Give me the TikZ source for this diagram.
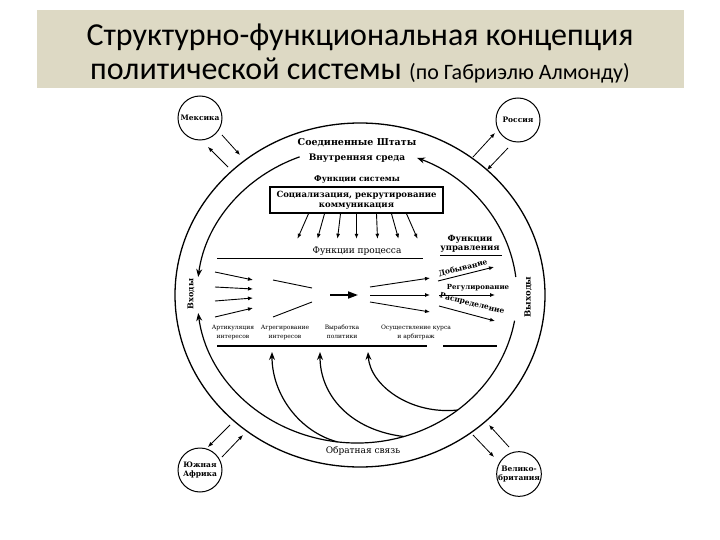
\documentclass[tikz,border=0pt]{standalone}
\usepackage{fontspec}
\setmainfont{DejaVu Serif}
\newfontfamily\titlefont{Carlito}
\usetikzlibrary{arrows.meta, calc}
\definecolor{titlebg}{RGB}{221,217,196}

\begin{document}
\begin{tikzpicture}[x=1pt, y=-1pt,
        every node/.style={align=center, inner sep=0pt},
        ring/.style={line width=1.2pt},
        flow/.style={ring, -{Stealth[length=8pt, width=6pt]}},
        feed/.style={line width=0.9pt, -{Latex[length=5pt, width=4pt]}},
        link/.style={line width=0.8pt, -{Latex[length=5pt, width=4pt]}},
        land/.style={draw, circle, line width=1pt, minimum size=44pt, font=\bfseries\fontsize{7.5}{8.5}\selectfont},
        tag/.style={anchor=north, font=\fontsize{6}{8.5}\selectfont},
        rule/.style={line width=1.6pt}]
    \useasboundingbox (0,0) rectangle (720,540);
    \fill[titlebg] (37,10) rectangle (684,88);
    \node[anchor=base, font=\titlefont\fontsize{32}{38}\selectfont] (titleA) at (360,46) {Структурно-функциональная концепция};
    \node[anchor=base, font=\titlefont\fontsize{32}{38}\selectfont] (titleB) at (360,80) {политической системы {\fontsize{22}{26}\selectfont (по Габриэлю Алмонду)}};

    \coordinate (ringC) at (357,295);
    \draw[line width=1.3pt] (360,295) ellipse [x radius=185, y radius=172];
    \draw[flow] ($(ringC)+(249:160 and 148)$) arc[start angle=249, end angle=187, x radius=160, y radius=148];
    \draw[flow] ($(ringC)+(10:160 and 148)$) arc[start angle=10, end angle=173, x radius=160, y radius=148];
    \draw[flow] ($(ringC)+(-7:160 and 148)$) arc[start angle=-7, end angle=-68, x radius=160, y radius=148];

    \node[font=\bfseries\fontsize{9.5}{11}\selectfont] (usa) at (357,143) {Соединенные Штаты};
    \node[font=\bfseries\fontsize{9}{11}\selectfont] (env) at (357,158) {Внутренняя среда};
    \node[font=\bfseries\fontsize{8}{10}\selectfont] (sysfunc) at (357,179) {Функции системы};
    \node[draw, line width=1.5pt, minimum width=173pt, minimum height=26pt, font=\bfseries\fontsize{8.5}{10}\selectfont] (soc) at (356.5,200) {Социализация, рекрутирование\\коммуникация};
    \foreach \s/\e in {-48/-11, -32/-7, -16/-3, 0/0, 20/1, 35/7, 50/11}
        \draw[feed] ($(soc.south)+(\s,0)$) -- ++(\e,25);

    \node[font=\fontsize{9}{11}\selectfont] (procfunc) at (357,251) {Функции процесса};
    \node[font=\bfseries\fontsize{8.5}{9.5}\selectfont] (govfunc) at (470,244) {Функции\\управления};
    \draw[line width=0.9pt] (217,258) -- (423,258);
    \draw[line width=0.9pt] (440,255) -- (502,255);

    \foreach \a/\b in {272/280, 287/289, 301/298, 317/308}
        \draw[feed] (215,\a) -- (253,\b);
    \draw[line width=0.9pt] (273,280) -- (312,288);
    \draw[line width=0.9pt] (273,317) -- (312,302);
    \draw[line width=1.8pt, -{Triangle[length=10pt, width=7pt]}] (330,295) -- (358,295);
    \foreach \a/\b in {287/278, 295/295, 302/312}
        \draw[feed] (370,\a) -- (430,\b);

    \node[rotate=14, font=\bfseries\fontsize{7.5}{9}\selectfont] (extract) at (463,268) {Добывание};
    \draw[feed] (438,281) -- (494,267);
    \node[font=\bfseries\fontsize{7}{9}\selectfont] (regul) at (478,288) {Регулирование};
    \draw[feed] (439,295) -- (495,295);
    \node[rotate=-14, font=\bfseries\fontsize{7.5}{9}\selectfont] (distr) at (472,304) {Распределение};
    \draw[feed] (439,306) -- (495,321);

    \node[tag] (artic) at (233,325) {Артикуляция\\интересов};
    \node[tag] (aggr) at (285,325) {Агрегирование\\интересов};
    \node[tag] (policy) at (342,325) {Выработка\\политики};
    \node[tag] (implem) at (416,325) {Осуществление курса\\и арбитраж};
    \draw[rule] (217,346) -- (427,346);
    \draw[rule] (443,346) -- (497,346);

    \draw[flow] ($(ringC)+(97:160 and 148)$) .. controls (300,432) and (272,395) .. (272,352);
    \draw[flow] ($(ringC)+(73:160 and 148)$) .. controls (350,430) and (320,395) .. (320,352);
    \draw[flow] ($(ringC)+(51:160 and 148)$) .. controls (410,415) and (370,385) .. (368,352);

    \node[rotate=90, font=\bfseries\fontsize{8}{9}\selectfont] (inputs) at (191,294) {Входы};
    \node[rotate=90, font=\bfseries\fontsize{8.5}{9}\selectfont] (outputs) at (528,297) {Выходы};
    \node[font=\fontsize{9}{11}\selectfont] (feedback) at (363,451) {Обратная связь};

    \node[land] (mexico) at (200,118) {Мексика};
    \node[land] (russia) at (518,120) {Россия};
    \node[land] (safrica) at (200,470) {Южная\\Африка};
    \node[land] (britain) at (519,474) {Велико-\\британия};
    \draw[link] ($(mexico)+(28,49)$) -- ($(mexico)+(8,29)$);
    \draw[link] ($(mexico)+(22,17)$) -- ($(mexico)+(40,37)$);
    \draw[link] ($(russia)+(-45,37)$) -- ($(russia)+(-23,13)$);
    \draw[link] ($(russia)+(-10,28)$) -- ($(russia)+(-31,50)$);
    \draw[link] ($(safrica)+(30,-45)$) -- ($(safrica)+(8,-23)$);
    \draw[link] ($(safrica)+(22,-13)$) -- ($(safrica)+(43,-35)$);
    \draw[link] ($(britain)+(-46,-39)$) -- ($(britain)+(-25,-17)$);
    \draw[link] ($(britain)+(-10,-27)$) -- ($(britain)+(-30,-49)$);
\end{tikzpicture}
\end{document}
